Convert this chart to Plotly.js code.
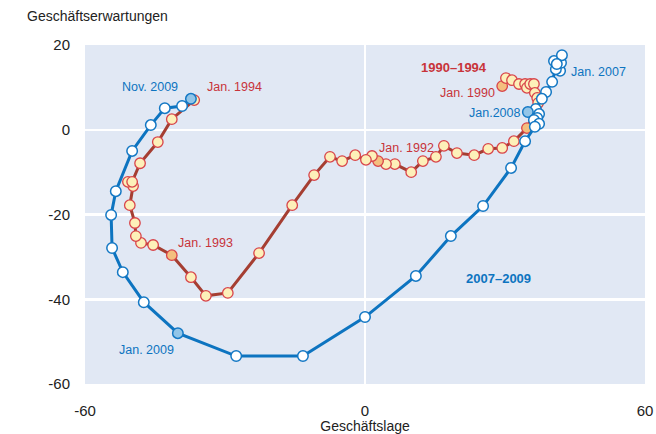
<!DOCTYPE html>
<html>
<head>
<meta charset="utf-8">
<script src="https://cdn.plot.ly/plotly-3.0.1.min.js"></script>
<style>html,body{margin:0;padding:0;background:#fff}#chart{width:656px;height:434px}</style>
</head>
<body>
<div id="chart"></div>
<script>
// 1990–1994 (monthly, Jan 1990 .. Jan 1994)
const lage9094 = [29.4,30.2,31.5,33.0,34.3,34.7,35.4,36.2,36.4,36.9,37.1,36.6,34.7,
  31.9,29.4,26.4,23.4,19.7,16.9,15.2,12.4,9.9,6.4,4.5,2.8,
  1.5,0.2,-2.1,-4.9,-7.5,-10.9,-15.6,-22.7,-29.4,-34.1,-37.3,-41.4,
  -45.4,-48.0,-49.1,-49.3,-50.4,-49.7,-50.8,-49.9,-48.2,-44.4,-41.4,-36.6];
const erw9094 = [10.3,12.2,11.7,10.8,10.8,9.9,10.8,10.8,8.7,7.5,6.3,4.7,0.4,
  -2.7,-4.3,-4.5,-6.0,-5.5,-3.8,-6.4,-7.4,-10.0,-8.1,-8.1,-7.4,
  -6.2,-7.1,-6.0,-7.4,-6.4,-10.7,-17.8,-29.1,-38.5,-39.2,-34.8,-29.6,
  -27.2,-26.7,-25.1,-22.0,-17.8,-13.3,-12.3,-12.3,-7.9,-2.9,2.5,7.0];
const hl9094 = [0,12,24,36];            // Jan 1990, Jan 1991, Jan 1992, Jan 1993
// 2007–2009 (monthly, Jan 2007 .. Nov 2009)
const lage0709 = [41.8,40.9,42.0,40.5,42.2,41.1,40.1,38.8,37.9,36.6,37.3,36.9,34.9,
  36.2,37.3,36.4,34.3,31.3,25.3,18.4,10.9,0.0,-13.3,-27.6,-40.1,
  -47.4,-51.9,-54.2,-54.4,-53.4,-49.9,-45.9,-42.9,-39.2,-37.3];
const erw0709 = [13.9,14.3,15.8,16.2,17.6,15.5,11.3,8.9,7.3,4.9,3.7,2.8,4.2,
  2.3,1.4,0.7,-2.7,-9.0,-18.0,-25.1,-34.5,-44.2,-53.4,-53.4,-48.0,
  -40.7,-33.6,-27.9,-20.1,-14.5,-5.0,1.1,5.1,5.6,7.3];
const hl0709 = [12,24,34];              // Jan 2008, Jan 2009, Nov 2009
const xTicks = [-60,0,60];
const yTicks = [-60,-40,-20,0,20];

const RED='#c8343a', REDLINE='#a53e32', BLUE='#0d74c0';
const redFill = lage9094.map((_,i)=>hl9094.includes(i)?'#f4bf7e':'#fdf0b9');
const blueFill = lage0709.map((_,i)=>hl0709.includes(i)?'#92c5e8':'#ffffff');

const traces = [
  {x:lage9094,y:erw9094,mode:'lines+markers',type:'scatter',
   line:{color:REDLINE,width:3},
   marker:{size:10.5,color:redFill,line:{color:'#d8444a',width:1.3}},hoverinfo:'skip'},
  {x:lage0709,y:erw0709,mode:'lines+markers',type:'scatter',
   line:{color:BLUE,width:3},
   marker:{size:10.5,color:blueFill,line:{color:'#1478c4',width:1.5}},hoverinfo:'skip'}
];
const F='Liberation Sans, Arial, sans-serif';
function ann(text,x,y,color,xanchor,bold){
  return {text:bold?'<b>'+text+'</b>':text,x:x,y:y,xref:'x',yref:'y',showarrow:false,
    xanchor:xanchor||'center',yanchor:'middle',font:{family:F,size:bold?13:12.5,color:color}};
}
const layout = {
  width:656,height:434,
  margin:{l:85,r:11,t:45,b:50},
  paper_bgcolor:'#ffffff',plot_bgcolor:'#e1e8f4',
  showlegend:false,
  xaxis:{range:[-60,60],tickvals:xTicks,ticktext:xTicks.map(String),showgrid:true,gridcolor:'#ffffff',gridwidth:2.5,
    zeroline:false,showline:false,ticks:'',ticklabelstandoff:16,automargin:false,tickfont:{family:F,size:15,color:'#222'},
    title:{text:'Geschäftslage',font:{family:F,size:14,color:'#222'},standoff:3}},
  yaxis:{range:[-60,20],tickvals:yTicks,ticktext:yTicks.map(String),showgrid:true,gridcolor:'#ffffff',gridwidth:2.5,
    zeroline:false,showline:false,ticks:'',ticklabelstandoff:14,automargin:false,tickfont:{family:F,size:15,color:'#222'}},
  annotations:[
    {text:'Geschäftserwartungen',xref:'paper',yref:'paper',x:-0.108,y:1.055,xanchor:'left',yanchor:'bottom',
     showarrow:false,font:{family:F,size:14,color:'#222'}},
    ann('Nov. 2009',-46,10,BLUE),
    ann('Jan. 1994',-28,10,RED),
    ann('1990–1994',19,14.6,RED,'center',true),
    ann('Jan. 1990',28.3,8.6,RED,'right'),
    ann('Jan.2008',33.6,3.9,BLUE,'right'),
    ann('Jan. 2007',43.7,13.7,BLUE,'left'),
    ann('Jan. 1992',8.8,-4.2,RED),
    ann('Jan. 1993',-34.2,-26.7,RED),
    ann('Jan. 2009',-46.8,-52,BLUE),
    ann('2007–2009',28.7,-35.0,BLUE,'center',true)
  ]
};
Plotly.newPlot('chart',traces,layout,{staticPlot:true,displayModeBar:false});
</script>
</body>
</html>
